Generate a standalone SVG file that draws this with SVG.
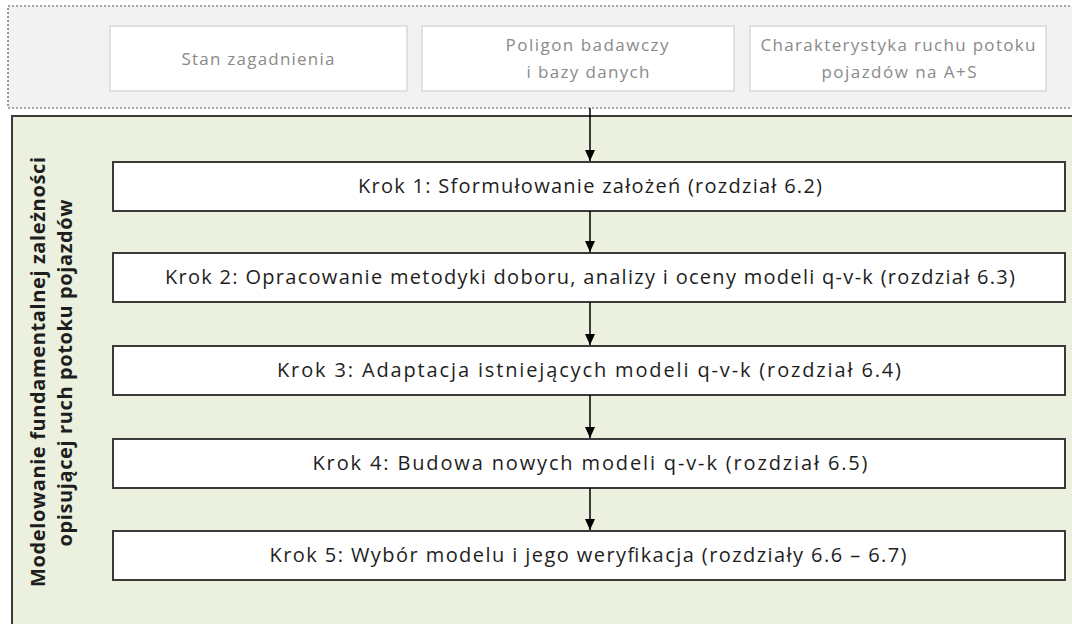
<svg xmlns="http://www.w3.org/2000/svg" width="1072" height="624" viewBox="0 0 1072 624">
<style>
.top{fill:#ffffff;stroke:#d9d9d9;stroke-width:1.5}
.tt{font-family:"Open Sans","Liberation Sans",sans-serif;font-size:17px;fill:#8a8a8a;text-anchor:middle}
.step{fill:#ffffff;stroke:#3a3a3a;stroke-width:2}
.st{font-family:"Open Sans","Liberation Sans",sans-serif;font-size:20px;fill:#1e1e1e;text-anchor:middle}
.side{font-family:"Open Sans","Liberation Sans",sans-serif;font-size:20px;font-weight:bold;fill:#1e1e1e;text-anchor:middle}
.con{stroke:#000;stroke-width:1.5;fill:none;marker-end:url(#ah)}
</style>
<defs>
<marker id="ah" markerWidth="11" markerHeight="10" refX="11" refY="5" orient="auto" markerUnits="userSpaceOnUse">
<path d="M0,0 L11,5 L0,10 Z" fill="#000"/>
</marker>
</defs>
<rect x="0" y="0" width="1072" height="624" fill="#ffffff"/>
<g id="context">
<rect x="8" y="6" width="1070" height="102" fill="#f2f2f2" stroke="#555" stroke-width="1.2" stroke-dasharray="2,2"/>
</g>
<g id="stan">
<rect class="top" x="110" y="26" width="297" height="65"/>
<text class="tt" x="258" y="65" textLength="153" lengthAdjust="spacing">Stan zagadnienia</text>
</g>
<g id="poligon">
<rect class="top" x="422" y="26" width="312" height="65"/>
<text class="tt" x="587" y="51" textLength="163" lengthAdjust="spacing">Poligon badawczy</text>
<text class="tt" x="588" y="78" textLength="123" lengthAdjust="spacing">i bazy danych</text>
</g>
<g id="charakterystyka">
<rect class="top" x="750" y="26" width="296" height="65"/>
<text class="tt" x="898" y="51" textLength="275" lengthAdjust="spacing">Charakterystyka ruchu potoku</text>
<text class="tt" x="899" y="78" textLength="155" lengthAdjust="spacing">pojazdów na A+S</text>
</g>
<g id="modelowanie">
<rect x="12" y="116" width="1070" height="520" fill="#ebf1de" stroke="#3a3a3a" stroke-width="2"/>
<text class="side" transform="translate(45,372) rotate(-90)" textLength="430" lengthAdjust="spacing">Modelowanie fundamentalnej zależności</text>
<text class="side" transform="translate(72,373) rotate(-90)" textLength="347" lengthAdjust="spacing">opisującej ruch potoku pojazdów</text>
</g>
<g id="krok1">
<rect class="step" x="113" y="162" width="952" height="49"/>
<text class="st" x="590" y="193" textLength="464" lengthAdjust="spacing">Krok 1: Sformułowanie założeń (rozdział 6.2)</text>
</g>
<g id="krok2">
<rect class="step" x="113" y="253" width="952" height="49"/>
<text class="st" x="590" y="284" textLength="850" lengthAdjust="spacing">Krok 2: Opracowanie metodyki doboru, analizy i oceny modeli q-v-k (rozdział 6.3)</text>
</g>
<g id="krok3">
<rect class="step" x="113" y="346" width="952" height="49"/>
<text class="st" x="589" y="377" textLength="624" lengthAdjust="spacing">Krok 3: Adaptacja istniejących modeli q-v-k (rozdział 6.4)</text>
</g>
<g id="krok4">
<rect class="step" x="113" y="439" width="952" height="49"/>
<text class="st" x="590" y="470" textLength="555" lengthAdjust="spacing">Krok 4: Budowa nowych modeli q-v-k (rozdział 6.5)</text>
</g>
<g id="krok5">
<rect class="step" x="113" y="531" width="952" height="49"/>
<text class="st" x="588" y="562" textLength="637" lengthAdjust="spacing">Krok 5: Wybór modelu i jego weryfikacja (rozdziały 6.6 – 6.7)</text>
</g>
<g id="connectors">
<line class="con" x1="590" y1="108" x2="590" y2="161"/>
<line class="con" x1="590" y1="211" x2="590" y2="252"/>
<line class="con" x1="590" y1="302" x2="590" y2="345"/>
<line class="con" x1="590" y1="395" x2="590" y2="438"/>
<line class="con" x1="590" y1="488" x2="590" y2="530"/>
</g>
</svg>
